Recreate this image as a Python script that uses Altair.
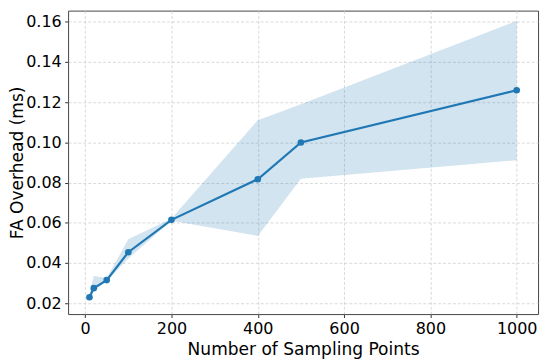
import altair as alt
import pandas as pd

# Data
sampling_points = [10, 20, 50, 100, 200, 400, 500, 1000]
mean_ms = [0.0230, 0.0275, 0.0315, 0.0454, 0.0615, 0.0817, 0.1000, 0.1260]
lower_ms = [0.0216, 0.0260, 0.0310, 0.0423, 0.0610, 0.0535, 0.0820, 0.0912]
upper_ms = [0.0244, 0.0336, 0.0325, 0.0518, 0.0622, 0.1110, 0.1190, 0.1605]

x_ticks = [0, 200, 400, 600, 800, 1000]
y_ticks = [0.02, 0.04, 0.06, 0.08, 0.10, 0.12, 0.14, 0.16]

df = pd.DataFrame({
    "n": sampling_points,
    "mean": mean_ms,
    "lo": lower_ms,
    "hi": upper_ms,
})

blue = "#1f77b4"
xscale = alt.Scale(domain=[-39.5, 1049.5], nice=False, zero=False)
yscale = alt.Scale(domain=[0.0146, 0.1656], nice=False, zero=False)

x_enc = alt.X("n:Q", scale=xscale,
              axis=alt.Axis(values=x_ticks, title="Number of Sampling Points", format="d",
                            titlePadding=4))
y_axis = alt.Axis(values=y_ticks, title="FA Overhead (ms)", format=".2f", titlePadding=-1)

band = alt.Chart(df).mark_area(color=blue, opacity=0.2, interpolate="linear").encode(
    x=x_enc,
    y=alt.Y("lo:Q", scale=yscale, axis=y_axis),
    y2="hi:Q",
)
line = alt.Chart(df).mark_line(color=blue, strokeWidth=2.2).encode(
    x=x_enc,
    y=alt.Y("mean:Q", scale=yscale, axis=y_axis),
)
pts = alt.Chart(df).mark_point(color=blue, filled=True, opacity=1, size=45).encode(
    x=x_enc,
    y=alt.Y("mean:Q", scale=yscale, axis=y_axis),
)

chart = alt.layer(band, line, pts).properties(
    width=477,
    height=308,
    autosize=alt.AutoSizeParams(type="none"),
    padding={"left": 61, "top": 0, "right": 4, "bottom": 48},
    background="white",
).configure_view(
    stroke="#444444", strokeWidth=1
).configure_axis(
    labelFont="DejaVu Sans",
    titleFont="DejaVu Sans",
    labelFontSize=16.2,
    titleFontSize=17.3,
    titleFontWeight="normal",
    labelColor="#000000",
    titleColor="#000000",
    domain=False,
    ticks=True,
    tickSize=3.5,
    tickColor="#333333",
    tickWidth=1,
    labelPadding=3.5,
    grid=True,
    gridColor="#cfcfcf",
    gridDash=[3, 2],
    gridWidth=0.8,
)

chart.save("out.html", embed_options={"renderer": "svg", "actions": False})
